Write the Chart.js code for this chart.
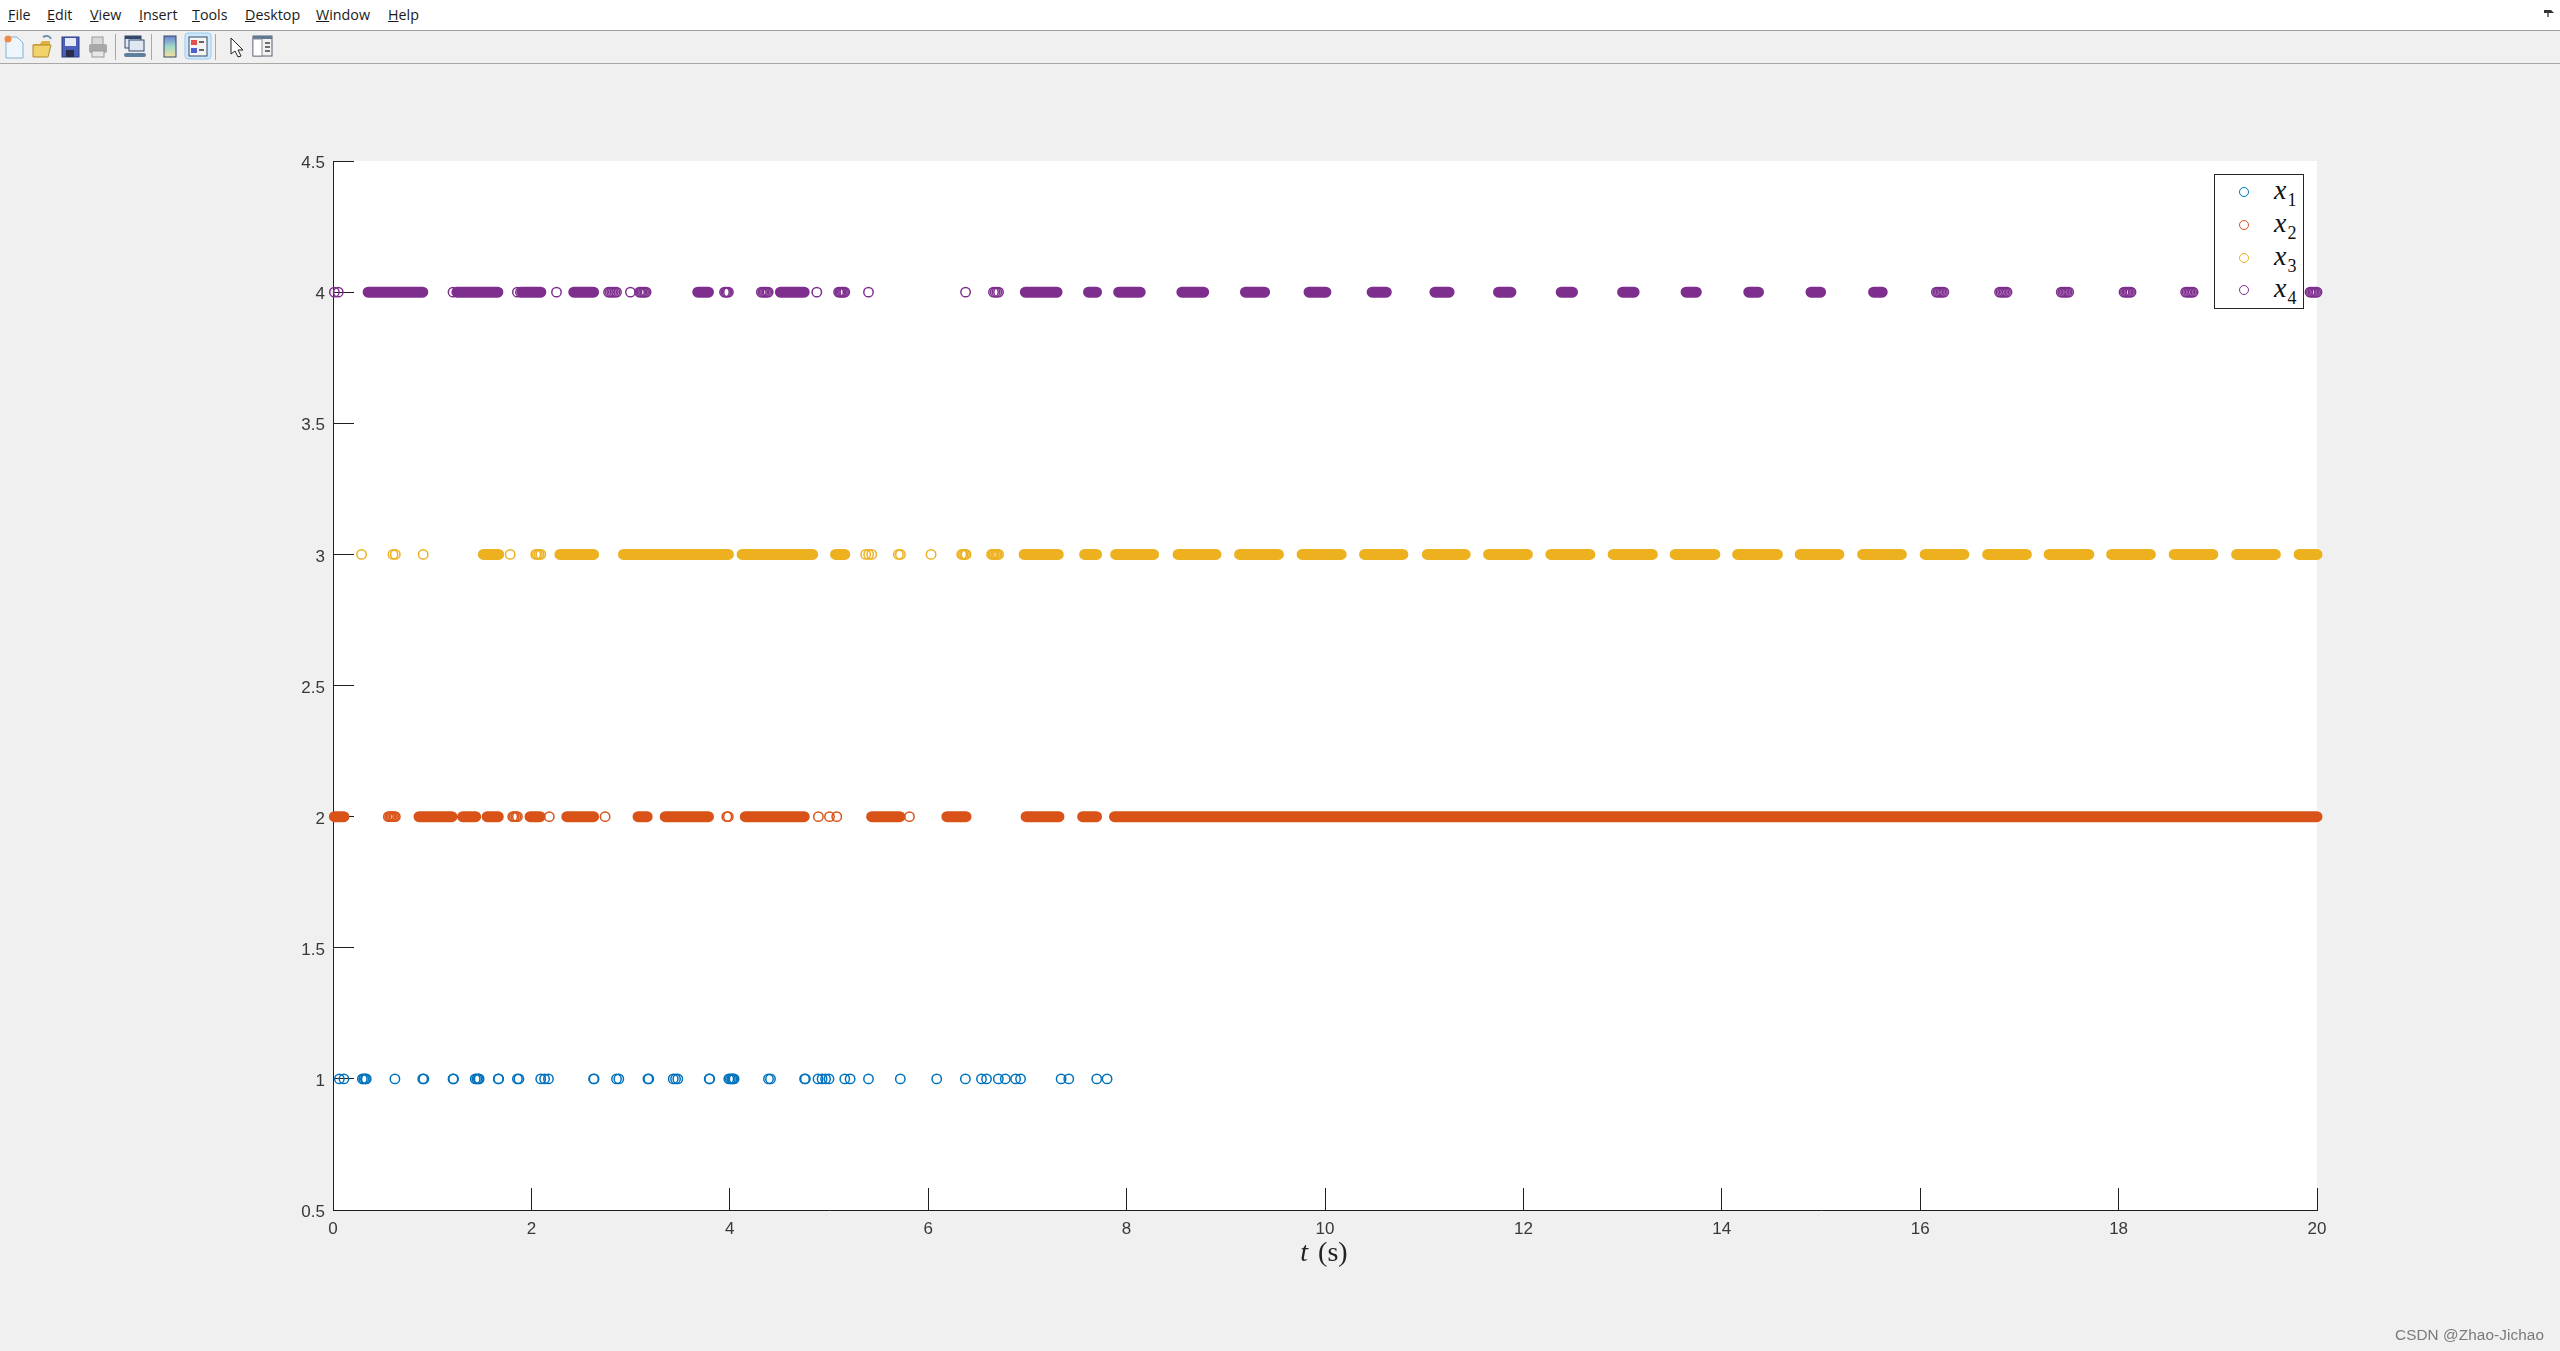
<!DOCTYPE html>
<html>
<head>
<meta charset="utf-8">
<title>Event-triggered states</title>
<script src="https://cdn.jsdelivr.net/npm/chart.js@4"></script>
<style>
html,body{margin:0;padding:0;width:2560px;height:1351px;overflow:hidden;background:#f0f0f0}
#c{position:absolute;left:0;top:0}
.abs{position:absolute}
#menubar{position:absolute;left:0;top:0;width:2560px;height:30px;background:#fff;border-bottom:1px solid #a0a0a0}
#menubar span{position:absolute;top:5px;font:14.3px/20px "Open Sans","Noto Sans",sans-serif;color:#1a1a1a}
#toolbar{position:absolute;left:0;top:31px;width:2560px;height:32px;background:#f0f0f0;border-bottom:1px solid #a8a8a8}
#toolbar svg{position:absolute;left:0;top:0}
#legend{position:absolute;left:2214px;top:174px;width:88px;height:133px;background:#fff;border:1.3px solid #262626}
#legend .ring{position:absolute;left:24px;width:8.4px;height:8.4px;border-radius:50%;border:1.4px solid}
#legend .lab{position:absolute;left:59px;font:italic 28px/30px "Liberation Serif",serif;color:#111}
#legend sub{font:normal 18px "Liberation Serif",serif;vertical-align:-7px;margin-left:1px}
#xtitle{position:absolute;left:1224px;width:200px;top:1235px;text-align:center;font:28px/34px "Liberation Serif",serif;color:#222;word-spacing:3px}
#wm{position:absolute;left:2395px;top:1325px;font:15.3px/20px "Liberation Sans",sans-serif;color:#7a7a7a;letter-spacing:.1px}
</style>
</head>
<body>
<canvas id="c" width="2560" height="1351"></canvas>

<div id="menubar">
<span style="left:8px"><u>F</u>ile</span>
<span style="left:47px"><u>E</u>dit</span>
<span style="left:90px"><u>V</u>iew</span>
<span style="left:139px"><u>I</u>nsert</span>
<span style="left:192px"><u>T</u>ools</span>
<span style="left:245px"><u>D</u>esktop</span>
<span style="left:316px"><u>W</u>indow</span>
<span style="left:388px"><u>H</u>elp</span>
<svg class="abs" style="left:2543px;top:8px" width="12" height="10" viewBox="0 0 12 10"><path d="M1 2h7l3 3H1z" fill="#333"/><path d="M5 5v4" stroke="#333" stroke-width="1.3"/></svg>
</div>

<div id="toolbar">
<svg width="300" height="32" viewBox="0 0 300 32">
  <path d="M6 6h11l6 6v15H6z" fill="#eef6fb" stroke="#7fb2cf"/><circle cx="8" cy="8" r="3.5" fill="#f08a4b"/>
  <path d="M33 13h7l2-3h8v4H33z" fill="#e0b040"/><path d="M33 14h18l-3 12H33z" fill="#f2d26a" stroke="#b08a2a"/><path d="M43 6c4-2 7-1 8 2" fill="none" stroke="#6b93ad" stroke-width="2"/>
  <rect x="62" y="6" width="17" height="20" fill="#4a5fb8" stroke="#2e3d86"/><rect x="65" y="7" width="11" height="8" fill="#e6e9f5"/><rect x="66" y="19" width="8" height="7" fill="#2b2b4a"/>
  <rect x="92" y="6" width="11" height="8" fill="#d8d8d8" stroke="#999"/><rect x="89" y="13" width="18" height="9" rx="2" fill="#a8a8a8"/><rect x="92" y="20" width="12" height="6" fill="#e8e8e8" stroke="#999"/>
  <rect x="115" y="3" width="1" height="26" fill="#a8a8a8"/>
  <rect x="125" y="5" width="16" height="12" fill="#dfe8f2" stroke="#33496b"/><rect x="125" y="5" width="16" height="3" fill="#33496b"/><rect x="129" y="9" width="15" height="11" fill="#dfe8f2" stroke="#33496b"/><path d="M126 24h8M136 24h8" stroke="#5f7f9f" stroke-width="4" stroke-linecap="round"/>
  <rect x="151" y="3" width="1" height="26" fill="#a8a8a8"/>
  <defs><linearGradient id="g" x1="0" y1="0" x2="0" y2="1"><stop offset="0" stop-color="#6a7fd0"/><stop offset=".5" stop-color="#9fd8c8"/><stop offset="1" stop-color="#f4e0a0"/></linearGradient></defs>
  <rect x="164" y="5" width="12" height="21" fill="url(#g)" stroke="#33496b"/>
  <rect x="185" y="2" width="26" height="26" rx="3" fill="#cfe8fb" stroke="#9ccbef"/>
  <rect x="189" y="6" width="18" height="19" fill="#f4f4f4" stroke="#33496b"/><rect x="191" y="9" width="6" height="5" fill="#e05050"/><rect x="191" y="17" width="6" height="5" fill="#5060d0"/><path d="M199 11h5M199 19h5" stroke="#333" stroke-width="1.4"/>
  <rect x="215" y="3" width="1" height="26" fill="#a8a8a8"/>
  <path d="M231 7v16l4-3 3 6 3-1-3-6h5z" fill="#fff" stroke="#222"/>
  <rect x="253" y="5" width="19" height="20" fill="#f2f2f2" stroke="#55606a"/><rect x="253" y="5" width="19" height="3" fill="#5f7a92"/><rect x="253" y="8" width="9" height="17" fill="#fff" stroke="#889"/><path d="M265 12h5M265 16h5M265 20h5" stroke="#444" stroke-width="1.5"/>
</svg>
</div>

<div id="legend">
  <div class="ring" style="top:12px;border-color:#0072BD"></div><div class="lab" style="top:0">x<sub>1</sub></div>
  <div class="ring" style="top:45px;border-color:#D95319"></div><div class="lab" style="top:33px">x<sub>2</sub></div>
  <div class="ring" style="top:78px;border-color:#EDB120"></div><div class="lab" style="top:66px">x<sub>3</sub></div>
  <div class="ring" style="top:110px;border-color:#7E2F8E"></div><div class="lab" style="top:98px">x<sub>4</sub></div>
</div>
<div id="xtitle"><i>t</i> (s)</div>
<div id="wm">CSDN @Zhao-Jichao</div>

<script>
// ---- data ----
const seriesNames = ['x1','x2','x3','x4'];
const seriesColors = ['#0072BD','#D95319','#EDB120','#7E2F8E'];
const seriesLevels = [1,2,3,4];
const xTicks = [0,2,4,6,8,10,12,14,16,18,20];
const xTickLabels = ['0','2','4','6','8','10','12','14','16','18','20'];
const yTicks = [0.5,1,1.5,2,2.5,3,3.5,4,4.5];
const yTickLabels = ['0.5','1','1.5','2','2.5','3','3.5','4','4.5'];

// isolated trigger instants (open circles)
const x1Dots = [0.064,0.11,0.296,0.311,0.327,0.335,0.624,0.905,0.915,1.21,1.215,1.434,1.45,1.465,1.473,1.666,1.67,1.859,1.874,2.094,2.133,2.172,2.627,2.632,2.858,2.881,3.175,3.183,3.43,3.453,3.476,3.793,3.797,3.99,4.005,4.02,4.03,4.043,4.39,4.41,4.754,4.762,4.889,4.93,4.966,5.0,5.159,5.213,5.398,5.719,6.086,6.375,6.537,6.588,6.707,6.777,6.881,6.931,7.34,7.417,7.699,7.803];
const x2Dots = [0.558,0.572,0.586,0.6,0.614,0.628,1.812,1.827,1.843,1.859,2.18,2.743,3.97,3.985,4.893,5.005,5.078,5.811];
const x3Dots = [0.288,0.605,0.628,0.909,1.786,2.044,2.06,2.078,2.095,5.37,5.40,5.43,5.70,5.72,6.029,6.338,6.352,6.367,6.381,6.639,6.653,6.667,6.681,6.695,6.709];
const x4Dots = [0.014,0.053,1.21,1.859,1.89,2.253,2.778,2.794,2.81,2.826,2.842,2.858,2.998,3.09,3.103,3.116,3.13,3.143,3.156,3.947,3.96,3.973,3.986,4.318,4.332,4.346,4.36,4.374,4.387,4.877,5.097,5.11,5.122,5.135,5.147,5.159,5.398,6.377,6.658,6.675,6.692,6.709,16.163,16.178,16.193,16.208,16.223,16.238,16.80,16.815,16.83,16.845,16.86,16.875,17.422,17.437,17.452,17.467,17.482,17.497,18.055,18.069,18.083,18.097,18.111,18.125,18.676,18.691,18.706,18.721,18.736,18.751,19.93,19.944,19.958,19.972,19.986,20];

// densely triggered stretches (solid bars of overlapping circles): [start, end]
const x1Runs = [];
const x2Runs = [[0.014,0.11],[0.867,1.199],[1.307,1.438],[1.554,1.666],[1.986,2.087],[2.357,2.627],[3.075,3.167],[3.349,3.785],[4.156,4.75],[5.43,5.714],[6.188,6.381],[6.987,7.318],[7.557,7.697],[7.878,20]];
const x3Runs = [[1.516,1.67],[2.287,2.627],[2.928,3.986],[4.124,4.835],[5.066,5.159],[6.967,7.311],[7.577,7.697],[7.89,8.272],[8.519,8.901],[9.139,9.53],[9.769,10.163],[10.399,10.785],[11.032,11.413],[11.649,12.04],[12.277,12.67],[12.905,13.3],[13.53,13.93],[14.16,14.56],[14.79,15.18],[15.42,15.81],[16.05,16.44],[16.68,17.07],[17.3,17.7],[17.93,18.32],[18.56,18.95],[19.19,19.58],[19.82,20]];
const x4Runs = [[0.354,0.905],[1.249,1.662],[1.906,2.095],[2.427,2.627],[3.677,3.785],[4.51,4.75],[6.979,7.299],[7.616,7.697],[7.92,8.137],[8.557,8.777],[9.198,9.391],[9.839,10.009],[10.475,10.618],[11.108,11.251],[11.749,11.874],[12.381,12.495],[13.0,13.116],[13.64,13.743],[14.272,14.37],[14.899,14.996],[15.53,15.617],[19.3,19.37]];

const dotSets = [x1Dots,x2Dots,x3Dots,x4Dots];
const runSets = [x1Runs,x2Runs,x3Runs,x4Runs];

// ---- chart ----
const datasets = [];
seriesNames.forEach((name,i)=>{
  const y = seriesLevels[i];
  datasets.push({
    type:'line', label:name+' bursts',
    data: runSets[i].flatMap(r=>[{x:r[0],y},{x:r[1],y},{x:r[1],y:null}]),
    borderColor:seriesColors[i], borderWidth:11, borderCapStyle:'round',
    pointRadius:0, pointHoverRadius:0, spanGaps:false, tension:0, clip:false, fill:false
  });
  datasets.push({
    type:'scatter', label:name,
    data: dotSets[i].map(t=>({x:t,y})),
    borderColor:seriesColors[i], backgroundColor:'transparent',
    pointStyle:'circle', pointRadius:4.7, pointBorderWidth:1.5, pointHoverRadius:4.7, clip:false
  });
});

const plotBg = {
  id:'plotBg',
  beforeDraw(chart){
    const a = chart.chartArea, ctx = chart.ctx;
    ctx.save(); ctx.fillStyle='#ffffff';
    ctx.fillRect(a.left,a.top,a.right-a.left,a.bottom-a.top);
    ctx.restore();
  }
};
const axisFont = {family:'"Liberation Sans",Arial,sans-serif',size:17};
new Chart(document.getElementById('c').getContext('2d'),{
  data:{datasets},
  plugins:[plotBg],
  options:{
    responsive:false, animation:false, devicePixelRatio:1,
    layout:{padding:{left:0,top:161,right:243,bottom:0}},
    plugins:{legend:{display:false},tooltip:{enabled:false},title:{display:false}},
    events:[],
    scales:{
      x:{
        type:'linear', min:0, max:20, position:'bottom',
        afterBuildTicks(s){ s.ticks = xTicks.map(v=>({value:v})); },
        afterFit(s){ s.height = 141; },
        ticks:{autoSkip:false,maxRotation:0,font:axisFont,color:'#383838',padding:31,
          callback:(v)=>xTickLabels[xTicks.indexOf(v)]},
        grid:{drawOnChartArea:false,drawTicks:true,tickLength:-22,tickColor:'#1f1f1f',tickWidth:1},
        border:{display:true,color:'#1f1f1f',width:1}
      },
      y:{
        type:'linear', min:0.5, max:4.5, position:'left',
        afterBuildTicks(s){ s.ticks = yTicks.map(v=>({value:v})); },
        afterFit(s){ s.width = 333; },
        ticks:{autoSkip:false,font:axisFont,color:'#383838',padding:29,labelOffset:2.5,
          callback:(v)=>yTickLabels[yTicks.indexOf(v)]},
        grid:{drawOnChartArea:false,drawTicks:true,tickLength:-21,tickColor:'#1f1f1f',tickWidth:1},
        border:{display:true,color:'#1f1f1f',width:1}
      }
    }
  }
});
</script>
</body>
</html>
